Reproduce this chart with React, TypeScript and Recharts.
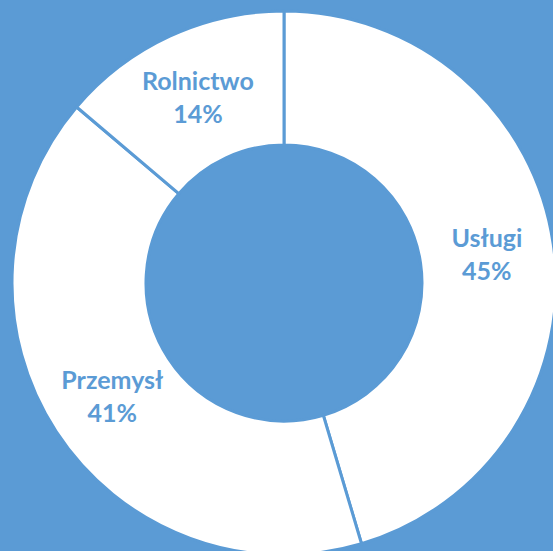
import { PieChart, Pie, Cell } from 'recharts'

const sectors = ['Usługi', 'Przemysł', 'Rolnictwo']
const shares = [45.4, 40.8, 13.8]

const BLUE = '#5B9BD5'
const RADIAN = Math.PI / 180

const chartData = sectors.map((name, i) => ({ name, value: shares[i] }))

// two-line label (name + percent) placed in the middle of the ring
function renderLabel(props: any) {
  const { cx, cy, midAngle, innerRadius, outerRadius, name, percent } = props
  const r = (innerRadius + outerRadius) / 2
  const x = cx + r * Math.cos(-midAngle * RADIAN)
  const y = cy + r * Math.sin(-midAngle * RADIAN)
  return (
    <text
      x={x}
      y={y}
      fill={BLUE}
      textAnchor="middle"
      fontFamily="Lato, 'DejaVu Sans', sans-serif"
      fontWeight={700}
      fontSize={25}
    >
      <tspan x={x} y={y - 16.5} dominantBaseline="central">{name}</tspan>
      <tspan x={x} y={y + 16.5} dominantBaseline="central">{`${Math.round(percent * 100)}%`}</tspan>
    </text>
  )
}

export default function App() {
  return (
    <div style={{ position: 'absolute', top: 0, left: 0, width: 553, height: 551, background: BLUE, overflow: 'hidden' }}>
      <PieChart width={553} height={551} margin={{ top: 0, right: 0, bottom: 0, left: 0 }}>
        <Pie
          data={chartData}
          dataKey="value"
          nameKey="name"
          cx={284}
          cy={283}
          innerRadius={138}
          outerRadius={272}
          startAngle={90}
          endAngle={-270}
          stroke={BLUE}
          strokeWidth={3}
          label={renderLabel}
          labelLine={false}
          isAnimationActive={false}
        >
          {chartData.map((d) => (
            <Cell key={d.name} fill="#FFFFFF" />
          ))}
        </Pie>
      </PieChart>
    </div>
  )
}
